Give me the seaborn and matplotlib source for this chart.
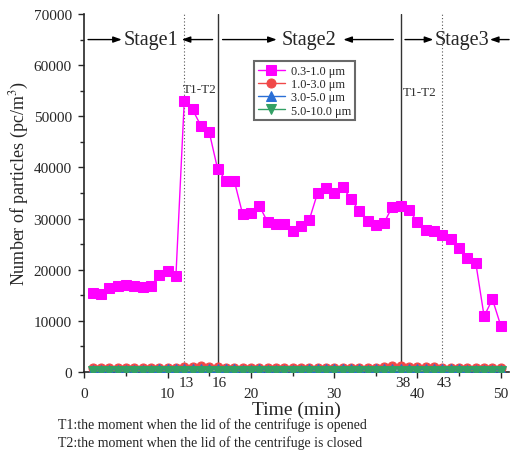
import matplotlib
matplotlib.use("Agg")
import matplotlib.pyplot as plt
import seaborn as sns
import pandas as pd
import numpy as np

time_min = list(range(1, 51))
pm_03_10 = [15460, 15320, 16380, 16770, 17030, 16770, 16570, 16770, 18900, 19800,
            18800, 52980, 51330, 48140, 46900, 39730, 37440, 37440, 30920, 31180,
            32550, 29350, 28960, 29020, 27650, 28510, 29700, 34970, 36010, 35030,
            36200, 33860, 31510, 29550, 28700, 29220, 32350, 32490, 31640, 29350,
            27850, 27530, 26870, 25970, 24200, 22370, 21330, 10900, 14230, 9060]
pm_10_30 = [780, 760, 770, 780, 770, 760, 780, 770, 790, 800,
            820, 950, 1050, 1080, 1000, 880, 820, 800, 790, 780,
            790, 780, 770, 780, 770, 780, 790, 800, 810, 800,
            810, 800, 790, 790, 800, 880, 1200, 1150, 1050, 980,
            930, 900, 870, 850, 820, 800, 790, 760, 770, 740]
pm_30_50 = [480, 470, 480, 480, 470, 480, 470, 480, 490, 490,
            500, 560, 600, 600, 570, 520, 500, 490, 480, 480,
            490, 480, 480, 480, 470, 480, 490, 500, 500, 500,
            500, 490, 490, 480, 490, 520, 620, 600, 560, 540,
            520, 510, 500, 500, 490, 480, 480, 460, 470, 450]
pm_50_100 = [150, 150, 150, 150, 150, 150, 150, 150, 160, 160,
             160, 180, 190, 190, 180, 170, 160, 160, 160, 160,
             160, 160, 150, 160, 150, 160, 160, 160, 160, 160,
             160, 160, 160, 150, 160, 170, 200, 190, 180, 170,
             170, 160, 160, 160, 160, 150, 150, 150, 150, 140]
series_labels = ["0.3-1.0 μm", "1.0-3.0 μm", "3.0-5.0 μm", "5.0-10.0 μm"]
event_times = [12, 16, 38, 43]
event_labels = ["13", "16", "38", "43"]
stage_labels = ["Stage1", "Stage2", "Stage3"]
footnotes = ["T1:the moment when the lid of the centrifuge is opened",
             "T2:the moment when the lid of the centrifuge is closed"]

df = pd.DataFrame({
    "Time": time_min * 4,
    "Count": pm_03_10 + pm_10_30 + pm_30_50 + pm_50_100,
    "Size": sum([[lab] * len(time_min) for lab in series_labels], []),
})

sns.set_style("ticks")
plt.rcParams["font.family"] = ["Liberation Serif", "DejaVu Serif"]
plt.rcParams["mathtext.fontset"] = "stix"

fig = plt.figure(figsize=(5.13, 4.56), dpi=100)
ax = fig.add_axes([84.3 / 513, 83 / 456, (509.1 - 84.3) / 513, 358 / 456])

palette = {series_labels[0]: "#ff00ff", series_labels[1]: "#f04848",
           series_labels[2]: "#2a6fd6", series_labels[3]: "#33a065"}
markers = {series_labels[0]: "s", series_labels[1]: "o",
           series_labels[2]: "^", series_labels[3]: "v"}

draw_order = [series_labels[1], series_labels[2], series_labels[3], series_labels[0]]
for lab in draw_order:
    sub = df[df["Size"] == lab]
    sns.lineplot(data=sub, x="Time", y="Count", ax=ax, color=palette[lab],
                 marker=markers[lab], markersize=7 if lab == series_labels[0] else 6.5,
                 markeredgecolor=palette[lab], linewidth=1.0, label=lab,
                 zorder=5 if lab == series_labels[0] else 3)

handles, labels = ax.get_legend_handles_labels()
order = [labels.index(l) for l in series_labels]
leg = ax.legend([handles[i] for i in order], [labels[i] for i in order],
                loc="upper left", bbox_to_anchor=(0.40, 0.868), fontsize=8.8,
                frameon=True, fancybox=False, borderpad=0.3, labelspacing=0.1,
                handlelength=2.2, handletextpad=0.5, borderaxespad=0)
leg.get_frame().set_edgecolor("#444444")
leg.get_frame().set_linewidth(1.5)

ax.set_xlim(0, 51)
ax.set_ylim(0, 70000)
ax.set_xticks([0, 10, 20, 30, 40, 50])
ax.set_xticks([5, 15, 25, 35, 45], minor=True)
ax.set_yticks(np.arange(0, 70001, 10000))
ax.set_yticks(np.arange(5000, 70000, 10000), minor=True)
ax.tick_params(axis="both", which="major", direction="out", length=4, width=1,
               labelsize=11, pad=5)
ax.tick_params(axis="x", which="major", pad=7)
ax.tick_params(axis="both", which="minor", direction="out", length=3, width=1)
sns.despine(ax=ax)
for s in ["left", "bottom"]:
    ax.spines[s].set_linewidth(1.2)

ax.set_xlabel("Time (min)", fontsize=14, labelpad=0)
ax.set_ylabel("Number of particles (pc/m$^3$)", fontsize=13, labelpad=5)
ax.yaxis.set_label_coords(-0.125, 0.53)

# event lines
for t in event_times:
    if t in (16, 38):
        ax.axvline(t, color="#333333", linewidth=1.0, zorder=1)
    else:
        ax.axvline(t, color="#555555", linewidth=0.8, linestyle=(0, (1, 2)), zorder=1)
trans = matplotlib.transforms.blended_transform_factory(ax.transData, ax.transAxes)
for t, lab in zip(event_times, event_labels):
    ax.text(t + 0.2, -0.012, lab, transform=trans, ha="center", va="top", fontsize=11)

ax.text(11.8, 55400, "T1-T2", fontsize=9.5, ha="left", va="center", color="#333333")
ax.text(38.2, 54800, "T1-T2", fontsize=9.5, ha="left", va="center", color="#333333")

# stage annotations
yst = 65000
arrow_kw = dict(arrowstyle="-|>,head_length=0.5,head_width=0.18", color="black", lw=1.0,
                shrinkA=0, shrinkB=0)
stage_centers = [8.0, 27.0, 45.3]
arrows = [((0.45, 4.5), (15.4, 11.7)), ((16.6, 23.1), (37.1, 31.1)), ((38.5, 41.9), (51.0, 48.7))]
for lab, xc, (a1, a2) in zip(stage_labels, stage_centers, arrows):
    ax.text(xc, yst, lab, ha="center", va="center", fontsize=14.5)
    ax.annotate("", xy=(a1[1], yst), xytext=(a1[0], yst), arrowprops=arrow_kw)
    ax.annotate("", xy=(a2[1], yst), xytext=(a2[0], yst), arrowprops=arrow_kw)

fig.text(58 / 513, 1 - 425 / 456, footnotes[0], fontsize=10, ha="left", va="center")
fig.text(58 / 513, 1 - 443 / 456, footnotes[1], fontsize=10, ha="left", va="center")

fig.savefig("out.png", dpi=100)
